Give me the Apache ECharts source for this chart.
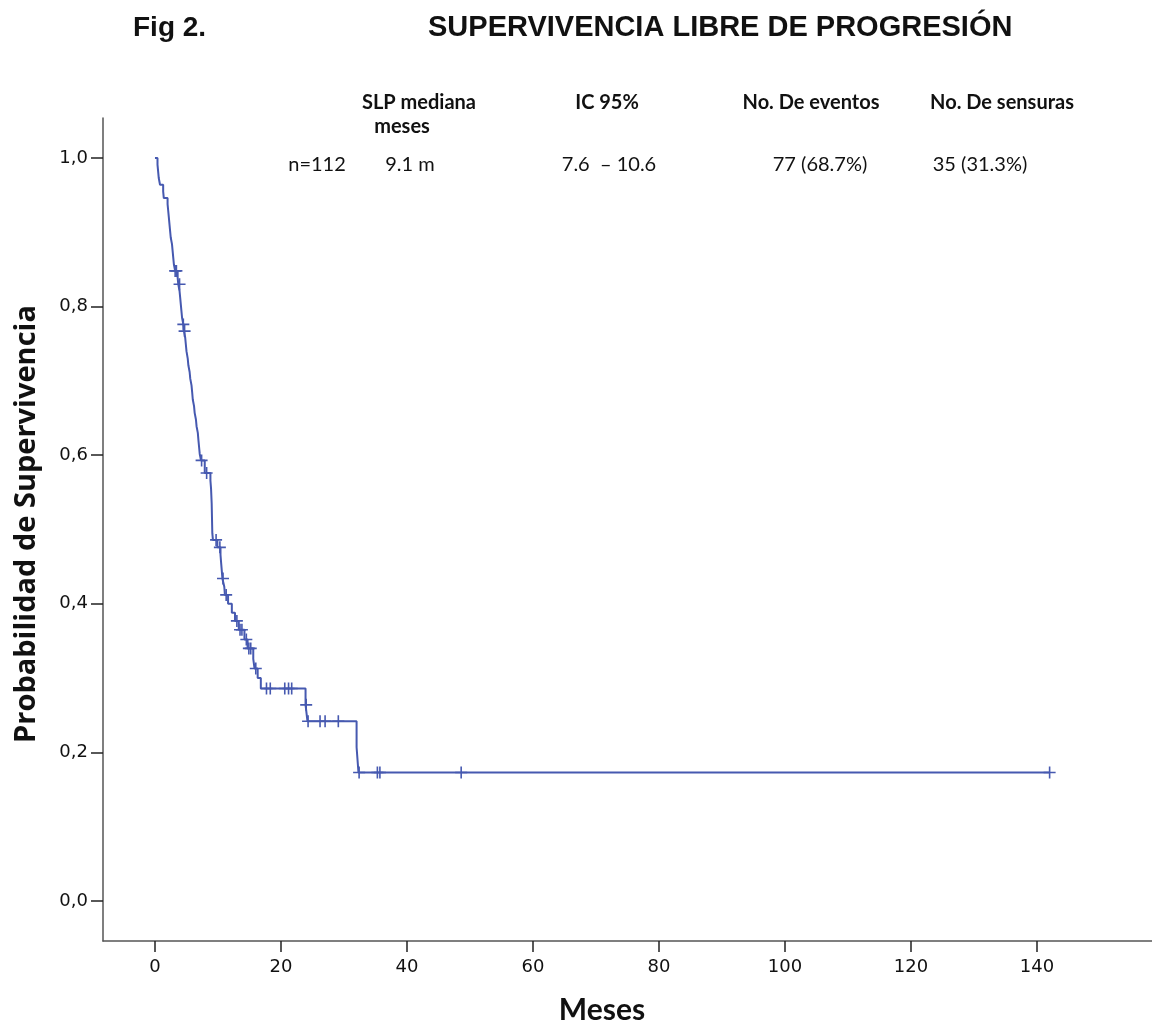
<!DOCTYPE html>
<html>
<head>
<meta charset="utf-8">
<script src="https://cdn.jsdelivr.net/npm/echarts@6/dist/echarts.min.js"></script>
<style>
  html, body { margin: 0; padding: 0; background: #fff; }
  #chart { width: 1152px; height: 1027px; }
</style>
</head>
<body>
<div id="chart"></div>
<script>
// Kaplan-Meier estimate: time (months) of each event and survival after it
const eventTimes = [
  0, 0.4, 0.5, 0.6, 0.8, 1.3, 1.4,
  2.0, 2.1, 2.2, 2.3, 2.4, 2.5, 2.7, 2.8, 2.9, 3.0, 3.2,
  3.6, 3.7,
  3.9, 4.0, 4.1, 4.2, 4.3, 4.5, 4.6,
  4.8, 4.9, 5.0, 5.2, 5.3, 5.5, 5.6,
  5.8, 5.9, 6.0, 6.2, 6.3, 6.5, 6.6,
  6.8, 6.9, 7.0, 7.1, 7.3, 7.9,
  8.8, 8.9, 9.0, 9.1, 9.2,
  9.9, 10.4, 10.5, 10.6, 10.7, 11.0, 11.1,
  11.6, 12.2, 12.7, 13.3, 14.2, 14.7, 15.6, 15.8, 16.3, 16.8,
  23.9, 24.2, 32.0, 32.3, 142
];
const survival = [
  1.0, 0.991, 0.982, 0.973, 0.964, 0.955, 0.946,
  0.938, 0.929, 0.920, 0.911, 0.902, 0.893, 0.884, 0.875, 0.866, 0.857, 0.848,
  0.839, 0.830,
  0.821, 0.812, 0.803, 0.794, 0.785, 0.776, 0.767,
  0.758, 0.749, 0.740, 0.730, 0.721, 0.712, 0.703,
  0.694, 0.685, 0.675, 0.666, 0.657, 0.648, 0.639,
  0.630, 0.620, 0.611, 0.602, 0.593, 0.576,
  0.566, 0.555, 0.535, 0.495, 0.486,
  0.476, 0.466, 0.455, 0.445, 0.434, 0.423, 0.412,
  0.400, 0.388, 0.377, 0.365, 0.352, 0.340, 0.326, 0.313, 0.300, 0.286,
  0.264, 0.242, 0.207, 0.173, 0.173
];

// Censored observations
const censorTimes = [
  3.2, 3.4, 3.9, 4.5, 4.7, 7.4, 8.2, 9.7, 10.3, 10.8, 11.3,
  13.0, 13.5, 13.8, 14.5, 14.9, 15.2, 16.0,
  17.7, 18.3, 20.6, 21.2, 21.7, 24.0,
  24.3, 26.2, 27.0, 29.1,
  32.4, 35.3, 35.7, 48.6, 142
];
const censorSurvival = [
  0.848, 0.848, 0.830, 0.776, 0.767, 0.593, 0.576, 0.486, 0.476, 0.434, 0.412,
  0.377, 0.365, 0.365, 0.352, 0.340, 0.340, 0.313,
  0.286, 0.286, 0.286, 0.286, 0.286, 0.264,
  0.242, 0.242, 0.242, 0.242,
  0.173, 0.173, 0.173, 0.173, 0.173
];

const xTicks = [0, 20, 40, 60, 80, 100, 120, 140];
const yTicks = [0, 0.2, 0.4, 0.6, 0.8, 1.0];

// Summary table shown above the curve
const headerCols = ['SLP mediana', 'IC 95%', 'No. De eventos', 'No. De sensuras'];
const rowValues = ['n=112', '9.1 m', '7.6  \u2013 10.6', '77 (68.7%)', '35 (31.3%)'];

const curveColor = '#4659b0';
const plusSymbol = 'path://M6,0L6,12M0,6L12,6';

const chart = echarts.init(document.getElementById('chart'), null, { renderer: 'canvas' });

const boldHead = 'bold 20px Lato';
const plainRow = '20px Lato';

function txt(x, y, text, font, align, extra) {
  return Object.assign({
    type: 'text', x: x, y: y, silent: true,
    style: { text: text, font: font, fill: '#111', textAlign: align || 'center', textVerticalAlign: 'middle' }
  }, extra || {});
}

chart.setOption({
  animation: false,
  backgroundColor: '#ffffff',
  grid: { left: 103, top: 118, width: 1049, height: 823, containLabel: false, outerBoundsMode: 'none' },
  xAxis: {
    type: 'value',
    min: -8.25, max: 158.25,
    splitLine: { show: false },
    axisLine: { show: true, onZero: false, lineStyle: { color: '#555', width: 1.5 } },
    axisTick: { show: true, length: 11, customValues: xTicks, lineStyle: { color: '#222', width: 1.5 } },
    axisLabel: { customValues: xTicks, margin: 17, color: '#111', fontFamily: 'DejaVu Sans', fontSize: 18 }
  },
  yAxis: {
    type: 'value',
    min: -0.0538, max: 1.0538,
    splitLine: { show: false },
    axisLine: { show: true, onZero: false, lineStyle: { color: '#555', width: 1.5 } },
    axisTick: { show: true, length: 12, customValues: yTicks, lineStyle: { color: '#222', width: 1.5 } },
    axisLabel: {
      customValues: yTicks, margin: 15, color: '#111', fontFamily: 'DejaVu Sans', fontSize: 18,
      formatter: v => v.toFixed(1).replace('.', ',')
    }
  },
  series: [
    {
      type: 'line',
      step: 'end',
      showSymbol: false,
      data: eventTimes.map((t, i) => [t, survival[i]]),
      lineStyle: { color: curveColor, width: 2 },
      z: 2
    },
    {
      type: 'scatter',
      symbol: plusSymbol,
      symbolSize: 12,
      data: censorTimes.map((t, i) => [t, censorSurvival[i]]),
      itemStyle: { color: 'rgba(0,0,0,0)', borderColor: curveColor, borderWidth: 1.6, opacity: 1 },
      z: 3
    }
  ],
  graphic: [
    txt(133, 28, 'Fig 2.', 'bold 28px "Liberation Sans"', 'left'),
    txt(428, 28, 'SUPERVIVENCIA LIBRE DE PROGRESIÓN', 'bold 29px "Liberation Sans"', 'left'),
    txt(419, 103, headerCols[0], boldHead),
    txt(402, 127, 'meses', boldHead),
    txt(607, 103, headerCols[1], boldHead),
    txt(811, 103, headerCols[2], boldHead),
    txt(1002, 103, headerCols[3], boldHead),
    txt(317, 165, rowValues[0], plainRow),
    txt(410, 165, rowValues[1], plainRow),
    txt(609, 165, rowValues[2], plainRow),
    txt(820, 165, rowValues[3], plainRow),
    txt(980, 165, rowValues[4], plainRow),
    // axis titles
    txt(602, 1010, 'Meses', 'bold 30px Lato'),
    txt(27, 524, 'Probabilidad de Supervivencia', 'bold 29px "Open Sans"', 'center', { rotation: Math.PI / 2 })
  ]
});
</script>
</body>
</html>
